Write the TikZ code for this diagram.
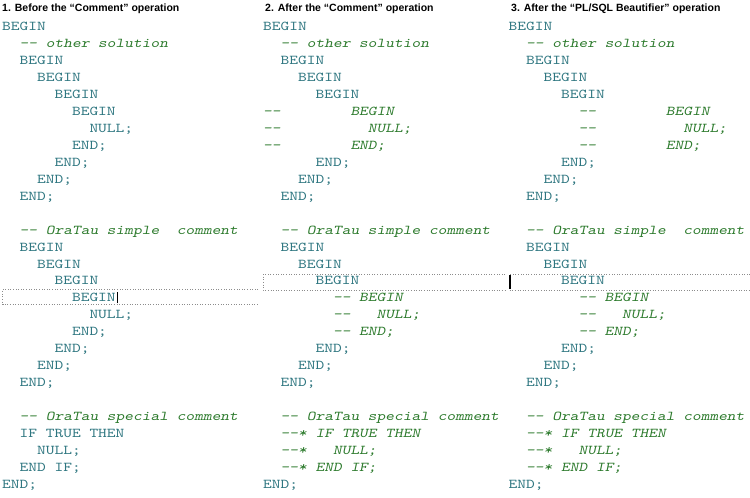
\documentclass[tikz,border=0pt]{standalone}
\usepackage{fontspec}
\usepackage{tikz}
\newfontfamily\headfont{Liberation Sans}
\newfontfamily\codefont{lmmono10-regular.otf}[ItalicFont=lmmonoslant10-regular.otf, FakeStretch=1.232, Ligatures=TeXOff]
\definecolor{codeteal}{RGB}{46,118,128}
\definecolor{codegreen}{RGB}{44,122,44}

\begin{document}
\begin{tikzpicture}[x=1pt, y=-1pt]
    \tikzstyle{head}=[anchor=base west, inner sep=0pt, font=\headfont\bfseries\fontsize{10.5}{12}\selectfont]
    \tikzstyle{kw}=[anchor=base west, inner sep=0pt, text=codeteal, font=\fontsize{13.5}{16}\codefont]
    \tikzstyle{cmt}=[kw, text=codegreen, font=\fontsize{13.5}{16}\codefont\itshape]
    \tikzstyle{selbox}=[black!45, dotted, line width=0.6pt]
    \tikzstyle{cursor}=[black, line width=1.4pt]

      \useasboundingbox (0,0) rectangle (750,498);

      \node[head] (h1) at (2,11) {1. Before the “Comment” operation};
      \node[head] (h2) at (265,11) {2. After the “Comment” operation};
      \node[head] (h3) at (511,11) {3. After the “PL/SQL Beautifier” operation};

      % 1. before
      \begin{scope}[shift={(2,30.7)}, x=8.73pt, y=-16.95pt]
      \node[kw] (b0) at (0,0) {BEGIN};
      \node[cmt] (b1) at (2,1) {-- other solution};
      \node[kw] (b2) at (2,2) {BEGIN};
      \node[kw] (b3) at (4,3) {BEGIN};
      \node[kw] (b4) at (6,4) {BEGIN};
      \node[kw] (b5) at (8,5) {BEGIN};
      \node[kw] (b6) at (10,6) {NULL;};
      \node[kw] (b7) at (8,7) {END;};
      \node[kw] (b8) at (6,8) {END;};
      \node[kw] (b9) at (4,9) {END;};
      \node[kw] (b10) at (2,10) {END;};
      \node[cmt] (b12) at (2,12) {-- OraTau simple\ \ comment};
      \node[kw] (b13) at (2,13) {BEGIN};
      \node[kw] (b14) at (4,14) {BEGIN};
      \node[kw] (b15) at (6,15) {BEGIN};
      \node[kw] (b16) at (8,16) {BEGIN};
      \node[kw] (b17) at (10,17) {NULL;};
      \node[kw] (b18) at (8,18) {END;};
      \node[kw] (b19) at (6,19) {END;};
      \node[kw] (b20) at (4,20) {END;};
      \node[kw] (b21) at (2,21) {END;};
      \node[cmt] (b23) at (2,23) {-- OraTau special comment};
      \node[kw] (b24) at (2,24) {IF TRUE THEN};
      \node[kw] (b25) at (4,25) {NULL;};
      \node[kw] (b26) at (2,26) {END IF;};
      \node[kw] (b27) at (0,27) {END;};
      \end{scope}

      % 2. after comment
      \begin{scope}[shift={(263,30.7)}, x=8.73pt, y=-16.95pt]
      \node[kw] (c0) at (0,0) {BEGIN};
      \node[cmt] (c1) at (2,1) {-- other solution};
      \node[kw] (c2) at (2,2) {BEGIN};
      \node[kw] (c3) at (4,3) {BEGIN};
      \node[kw] (c4) at (6,4) {BEGIN};
      \node[cmt] (c5) at (0,5) {--};
      \node[cmt] (c5x) at (10,5) {BEGIN};
      \node[cmt] (c6) at (0,6) {--};
      \node[cmt] (c6x) at (12,6) {NULL;};
      \node[cmt] (c7) at (0,7) {--};
      \node[cmt] (c7x) at (10,7) {END;};
      \node[kw] (c8) at (6,8) {END;};
      \node[kw] (c9) at (4,9) {END;};
      \node[kw] (c10) at (2,10) {END;};
      \node[cmt] (c12) at (2,12) {-- OraTau simple comment};
      \node[kw] (c13) at (2,13) {BEGIN};
      \node[kw] (c14) at (4,14) {BEGIN};
      \node[kw] (c15) at (6,15) {BEGIN};
      \node[cmt] (c16) at (8,16) {-- BEGIN};
      \node[cmt] (c17) at (8,17) {--};
      \node[cmt] (c17x) at (13,17) {NULL;};
      \node[cmt] (c18) at (8,18) {-- END;};
      \node[kw] (c19) at (6,19) {END;};
      \node[kw] (c20) at (4,20) {END;};
      \node[kw] (c21) at (2,21) {END;};
      \node[cmt] (c23) at (2,23) {-- OraTau special comment};
      \node[cmt] (c24) at (2,24) {--* IF TRUE THEN};
      \node[cmt] (c25) at (2,25) {--*};
      \node[cmt] (c25x) at (8,25) {NULL;};
      \node[cmt] (c26) at (2,26) {--* END IF;};
      \node[kw] (c27) at (0,27) {END;};
      \end{scope}

      % 3. after beautifier
      \begin{scope}[shift={(508.5,30.7)}, x=8.73pt, y=-16.95pt]
      \node[kw] (p0) at (0,0) {BEGIN};
      \node[cmt] (p1) at (2,1) {-- other solution};
      \node[kw] (p2) at (2,2) {BEGIN};
      \node[kw] (p3) at (4,3) {BEGIN};
      \node[kw] (p4) at (6,4) {BEGIN};
      \node[cmt] (p5) at (8,5) {--};
      \node[cmt] (p5x) at (18,5) {BEGIN};
      \node[cmt] (p6) at (8,6) {--};
      \node[cmt] (p6x) at (20,6) {NULL;};
      \node[cmt] (p7) at (8,7) {--};
      \node[cmt] (p7x) at (18,7) {END;};
      \node[kw] (p8) at (6,8) {END;};
      \node[kw] (p9) at (4,9) {END;};
      \node[kw] (p10) at (2,10) {END;};
      \node[cmt] (p12) at (2,12) {-- OraTau simple\ \ comment};
      \node[kw] (p13) at (2,13) {BEGIN};
      \node[kw] (p14) at (4,14) {BEGIN};
      \node[kw] (p15) at (6,15) {BEGIN};
      \node[cmt] (p16) at (8,16) {-- BEGIN};
      \node[cmt] (p17) at (8,17) {--};
      \node[cmt] (p17x) at (13,17) {NULL;};
      \node[cmt] (p18) at (8,18) {-- END;};
      \node[kw] (p19) at (6,19) {END;};
      \node[kw] (p20) at (4,20) {END;};
      \node[kw] (p21) at (2,21) {END;};
      \node[cmt] (p23) at (2,23) {-- OraTau special comment};
      \node[cmt] (p24) at (2,24) {--* IF TRUE THEN};
      \node[cmt] (p25) at (2,25) {--*};
      \node[cmt] (p25x) at (8,25) {NULL;};
      \node[cmt] (p26) at (2,26) {--* END IF;};
      \node[kw] (p27) at (0,27) {END;};
      \end{scope}

      % selected lines
      \draw[selbox] (258,289.3) -- (2.5,289.3) -- (2.5,304.5) -- (258,304.5);
      \draw[selbox] (505,274.3) -- (263,274.3) -- (263,290) -- (505,290);
      \draw[selbox] (750,274.3) -- (509,274.3) -- (509,290) -- (750,290);
      \draw[cursor] ([xshift=1.5pt,yshift=-1.5pt]b16.base east) -- ++(0,-11.5);
      \draw[cursor] (510,275) -- (510,289);
    \end{tikzpicture}
\end{document}
